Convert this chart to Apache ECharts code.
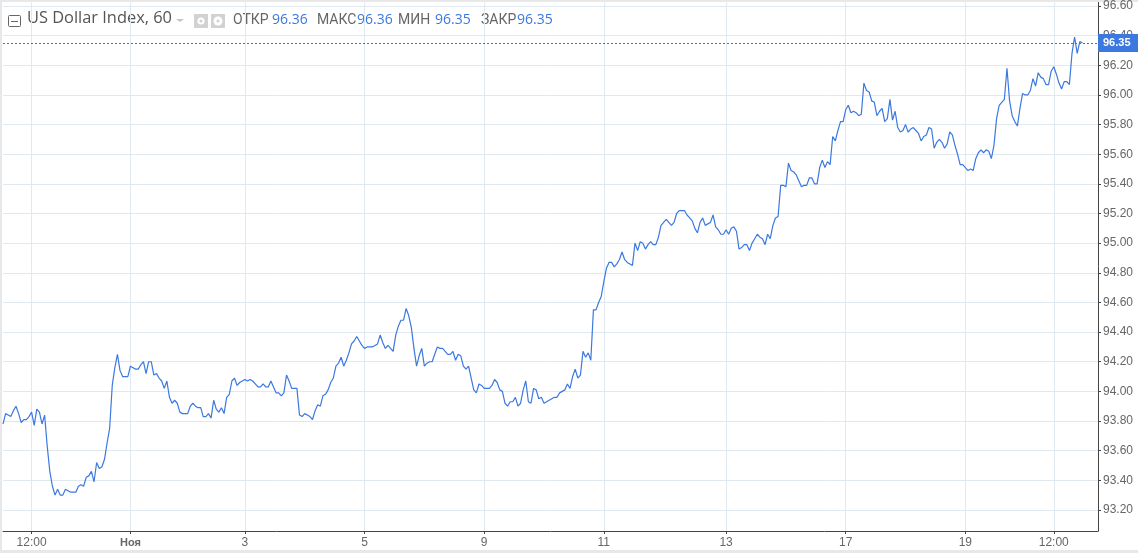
<!DOCTYPE html>
<html>
<head>
<meta charset="utf-8">
<style>
  html, body { margin: 0; padding: 0; background: #fff; }
  #chart { width: 1138px; height: 553px; }
</style>
<script src="https://cdn.jsdelivr.net/npm/echarts@6/dist/echarts.min.js"></script>
</head>
<body>
<div id="chart"></div>
<script>
// hourly close
const closeA = [93.78,93.85,93.84,93.83,93.87,93.90,93.85,93.79,93.81,93.81,93.83,93.86,93.77,93.88,93.86,93.78,93.84,93.63,93.46,93.36,93.30,93.34,93.30,93.30,93.34,93.33,93.32,93.32,93.32,93.36,93.37,93.36,93.42,93.43,93.46,93.39,93.52,93.48,93.49,93.54,93.65,93.75,94.04,94.16,94.25,94.14,94.10,94.10,94.10,94.17,94.16,94.15,94.15,94.18,94.20,94.12,94.20,94.20,94.11,94.12,94.09,94.07,94.02,94.07,93.96,93.92,93.94,93.92,93.86,93.85,93.85,93.85,93.90,93.92,93.90,93.89,93.89,93.83,93.83,93.85,93.82,93.94,93.88,93.86,93.89,93.85,93.96,93.98,94.07,94.09,94.04,94.06,94.07,94.08,94.07,94.08,94.07,94.05,94.03,94.03,94.05,94.03,94.03,94.07,94.03,93.99,93.99,93.97,93.99,94.11,94.07,94.02,94.02,94.02,93.84];
const closeB = [93.83,93.85,93.84,93.83,93.81,93.87,93.91,93.90,93.97,93.98,94.01,94.06,94.09,94.17,94.19,94.23,94.17,94.21,94.26,94.32,94.34,94.37,94.34,94.31,94.29,94.30,94.30,94.30,94.31,94.32,94.38,94.33,94.29,94.31,94.29,94.27,94.38,94.44,94.48,94.48,94.56,94.51,94.43,94.29,94.17,94.24,94.29,94.17,94.19,94.20,94.20,94.25,94.30,94.29,94.29,94.27,94.25,94.25,94.27,94.21,94.25,94.24,94.17,94.15,94.17,94.09,94.01,93.99,94.05,94.04,94.02,94.02,94.02,94.04,94.08,94.06,94.01,94.00,93.92,93.90,93.93,93.93,93.96,93.90,93.92,94.01,94.07,93.93,93.92,94.02,94.01,93.95,93.96,93.92,93.93,93.94,93.95,93.96,93.96,93.99,94.00,94.01,94.05,94.02,94.10,94.15,94.09,94.11,94.27,94.23,94.26,94.21,94.55,94.55,94.60,94.64];
const closeC = [94.74,94.83,94.87,94.87,94.84,94.86,94.89,94.94,94.89,94.87,94.86,94.85,95.00,94.95,95.01,95.00,94.96,94.99,95.01,94.99,94.99,95.04,95.12,95.14,95.16,95.14,95.12,95.14,95.20,95.22,95.22,95.22,95.19,95.17,95.15,95.10,95.07,95.14,95.17,95.12,95.13,95.14,95.19,95.11,95.09,95.06,95.06,95.09,95.06,95.10,95.11,95.08,94.96,94.97,94.99,94.99,94.95,95.00,95.03,95.06,95.04,95.03,94.99,95.06,95.03,95.12,95.17,95.18,95.39,95.39,95.38,95.54,95.49,95.48,95.46,95.42,95.38,95.39,95.39,95.44,95.44,95.40,95.40,95.51,95.56,95.51,95.55,95.53];
const closeD = [95.72,95.69,95.76,95.82,95.82,95.90,95.93,95.88,95.89,95.88,95.86,95.87,96.08,96.03,96.02,95.96,95.95,95.86,95.89,95.91,95.82,95.84,95.97,95.83,95.89,95.78,95.75,95.76,95.80,95.75,95.77,95.78,95.76,95.74,95.69,95.72,95.73,95.78,95.77,95.64,95.68,95.70,95.68,95.64,95.67,95.75,95.73,95.66,95.60,95.53,95.53,95.51,95.49,95.50,95.49,95.57,95.61,95.63,95.61,95.63,95.62,95.57,95.66,95.84,95.93,95.95,95.97,96.18,95.96,95.86,95.82,95.79,95.91,96.01,96.00,96.00,96.03,96.11,96.06,96.15,96.12,96.11,96.07,96.07,96.16,96.19,96.14,96.08,96.04,96.09,96.09,96.07,96.28,96.39,96.28,96.36,96.35];
const closeValues = closeA.concat(closeB, closeC, closeD);

const xTickIndex = [11, 49, 93, 139, 185, 231, 278, 324, 370, 404];
const xTickLabels = ['12:00', 'Ноя', '3', '5', '9', '11', '13', '17', '19', '12:00'];
const yTicks = [93.2,93.4,93.6,93.8,94.0,94.2,94.4,94.6,94.8,95.0,95.2,95.4,95.6,95.8,96.0,96.2,96.4,96.6];
const lastPrice = 96.35;
const legendItems = [
  { name: 'ОТКР', value: '96.36', x: 233, vx: 272 },
  { name: 'МАКС', value: '96.36', x: 317, vx: 357 },
  { name: 'МИН', value: '96.35', x: 398, vx: 435 },
  { name: 'ЗАКР', value: '96.35', x: 481, vx: 517 }
];

const slotCount = 422;
const categories = [];
for (let i = 0; i < slotCount; i++) {
  const k = xTickIndex.indexOf(i);
  categories.push(k >= 0 ? xTickLabels[k] : '');
}
const isTick = (idx) => xTickIndex.indexOf(idx) >= 0;

const gridColor = '#e0e9f0';
const axisColor = '#444';
const textColor = '#666';
const blue = '#3b78e0';
const uiFont = '"Open Sans", sans-serif';

const graphics = [
  { type: 'rect', shape: { x: 0, y: 0, width: 1138, height: 2 }, style: { fill: '#e8e8e8' }, silent: true },
  { type: 'rect', shape: { x: 0, y: 0, width: 2, height: 553 }, style: { fill: '#e8e8e8' }, silent: true },
  { type: 'rect', shape: { x: 0, y: 550, width: 1138, height: 3 }, style: { fill: '#e8e8e8' }, silent: true },
  // collapse box
  { type: 'rect', shape: { x: 8.5, y: 15.5, width: 12, height: 11, r: 1 }, style: { fill: '#fff', stroke: '#666', lineWidth: 1 } },
  { type: 'line', shape: { x1: 11, y1: 21.5, x2: 18, y2: 21.5 }, style: { stroke: '#666', lineWidth: 1 } },
  { type: 'text', x: 27, y: 10, style: { text: 'US Dollar Index, 60', font: '16.4px ' + uiFont, fill: '#555' } },
  { type: 'polygon', shape: { points: [[176, 19], [184, 19], [180, 22]] }, style: { fill: '#c4c4c4' } },
  // eye and gear buttons
  { type: 'rect', shape: { x: 194, y: 14, width: 14, height: 14 }, style: { fill: '#d2d2d2' } },
  { type: 'circle', shape: { cx: 201, cy: 21, r: 3.5 }, style: { fill: '#fff' } },
  { type: 'circle', shape: { cx: 201, cy: 21, r: 1.5 }, style: { fill: '#d2d2d2' } },
  { type: 'rect', shape: { x: 211, y: 14, width: 14, height: 14 }, style: { fill: '#d2d2d2' } },
  { type: 'circle', shape: { cx: 218, cy: 21, r: 4.5 }, style: { fill: '#fff' } },
  { type: 'circle', shape: { cx: 218, cy: 21, r: 1.5 }, style: { fill: '#d2d2d2' } }
];
legendItems.forEach((item) => {
  graphics.push({ type: 'text', x: item.x, y: 13, style: { text: item.name, font: '14px Roboto, sans-serif', fill: '#666' } });
  graphics.push({ type: 'text', x: item.vx, y: 13, style: { text: item.value, font: '14px ' + uiFont, fill: blue } });
});

const chart = echarts.init(document.getElementById('chart'), null, { renderer: 'canvas' });
chart.setOption({
  animation: false,
  backgroundColor: '#fff',
  grid: { left: 3, top: 2, width: 1095, height: 529, containLabel: false },
  xAxis: {
    type: 'category',
    boundaryGap: false,
    data: categories,
    axisLine: { lineStyle: { color: axisColor, width: 1 } },
    axisTick: { length: 3, interval: (idx) => isTick(idx), lineStyle: { color: axisColor } },
    axisLabel: {
      interval: (idx) => isTick(idx),
      color: textColor,
      fontFamily: 'Liberation Sans',
      fontSize: 12,
      margin: 6,
      formatter: (v) => (v === 'Ноя' ? '{b|' + v + '}' : v),
      rich: { b: { fontWeight: 'bold', fontSize: 11, color: textColor, fontFamily: 'Liberation Sans' } }
    },
    splitLine: { show: true, interval: (idx) => isTick(idx), lineStyle: { color: gridColor, width: 1 } }
  },
  yAxis: {
    type: 'value',
    position: 'right',
    min: 93.058,
    max: 96.624,
    axisLine: { show: true, onZero: false, lineStyle: { color: axisColor, width: 1 } },
    axisTick: { show: true, length: 3, customValues: yTicks, lineStyle: { color: axisColor } },
    axisLabel: {
      customValues: yTicks,
      color: textColor,
      fontFamily: 'Liberation Sans',
      fontSize: 12,
      margin: 5,
      formatter: (v) => v.toFixed(2)
    },
    splitLine: { show: true, lineStyle: { color: gridColor, width: 1 } }
  },
  series: [{
    type: 'line',
    data: closeValues,
    showSymbol: false,
    smooth: false,
    lineStyle: { color: blue, width: 1.2 },
    markLine: {
      silent: true,
      symbol: 'none',
      data: [{ yAxis: lastPrice }],
      lineStyle: { color: '#2f74e8', width: 1, type: [2, 2] },
      label: {
        show: true,
        position: 'end',
        distance: 0,
        formatter: () => lastPrice.toFixed(2),
        color: '#fff',
        backgroundColor: blue,
        fontFamily: 'Liberation Sans',
        fontSize: 11,
        fontWeight: 'bold',
        padding: [4, 4, 3, 5],
        width: 31
      }
    }
  }],
  graphic: graphics
});
</script>
</body>
</html>
